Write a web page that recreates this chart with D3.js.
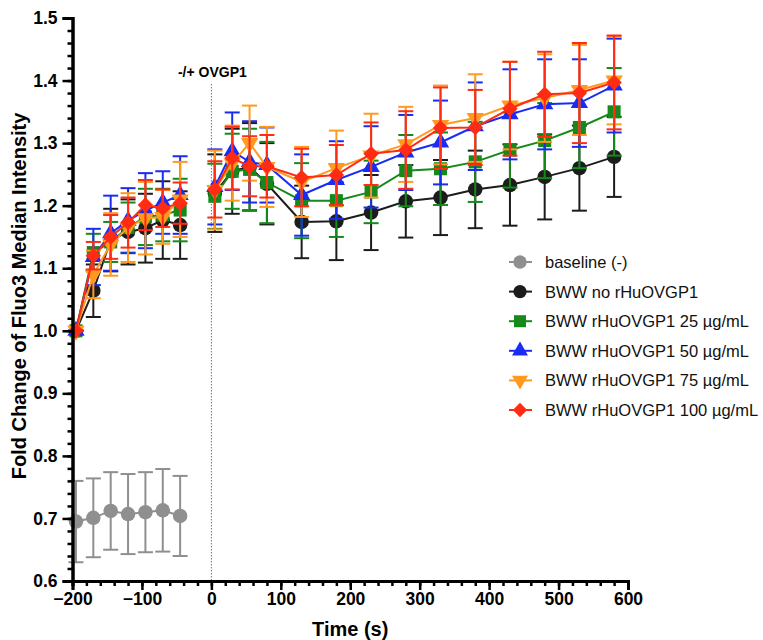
<!DOCTYPE html>
<html>
<head>
<meta charset="utf-8">
<script src="https://cdn.jsdelivr.net/npm/d3@7"></script>
<style>
  body { margin: 0; background: #fff; }
  svg { display: block; font-family: "Liberation Sans", Arial, sans-serif; }
</style>
</head>
<body>
<div class="graph"></div>
<script>
// Data
var timesPre = [-195, -170, -145, -120, -95, -70, -45];
var timesPost = [5, 30, 55, 80, 130, 180, 230, 280, 330, 380, 430, 480, 530, 580];

var baselineMean = [0.695, 0.701, 0.712, 0.707, 0.710, 0.713, 0.704];
var baselineSd = [0.065, 0.063, 0.062, 0.064, 0.064, 0.066, 0.064];

var noProtMean = [1.0, 1.064, 1.145, 1.158, 1.164, 1.177, 1.169, 1.220, 1.255, 1.262, 1.235, 1.174, 1.175, 1.189, 1.207, 1.213, 1.226, 1.233, 1.246, 1.260, 1.278];
var noProtSd = [0, 0.042, 0.05, 0.052, 0.055, 0.062, 0.054, 0.062, 0.068, 0.07, 0.065, 0.058, 0.062, 0.06, 0.058, 0.06, 0.062, 0.065, 0.068, 0.068, 0.064];

var dose25Mean = [1.0, 1.125, 1.142, 1.165, 1.182, 1.185, 1.193, 1.215, 1.255, 1.258, 1.237, 1.208, 1.208, 1.222, 1.256, 1.259, 1.270, 1.289, 1.304, 1.325, 1.350];
var dose25Sd = [0, 0.03, 0.032, 0.04, 0.045, 0.042, 0.05, 0.052, 0.06, 0.065, 0.065, 0.06, 0.058, 0.05, 0.057, 0.058, 0.064, 0.06, 0.06, 0.065, 0.07];

var dose50Mean = [1.0, 1.118, 1.156, 1.176, 1.192, 1.205, 1.217, 1.230, 1.287, 1.270, 1.265, 1.217, 1.241, 1.262, 1.285, 1.301, 1.327, 1.346, 1.362, 1.364, 1.392];
var dose50Sd = [0, 0.045, 0.06, 0.052, 0.06, 0.05, 0.062, 0.06, 0.062, 0.065, 0.06, 0.065, 0.062, 0.065, 0.06, 0.067, 0.07, 0.072, 0.072, 0.07, 0.075];

var dose75Mean = [1.0, 1.09, 1.138, 1.165, 1.18, 1.182, 1.21, 1.225, 1.268, 1.300, 1.262, 1.238, 1.260, 1.280, 1.298, 1.329, 1.340, 1.360, 1.372, 1.385, 1.400];
var dose75Sd = [0, 0.038, 0.05, 0.055, 0.058, 0.043, 0.06, 0.063, 0.06, 0.06, 0.064, 0.056, 0.06, 0.067, 0.06, 0.063, 0.07, 0.07, 0.07, 0.072, 0.07];

var dose100Mean = [1.0, 1.12, 1.150, 1.173, 1.201, 1.196, 1.204, 1.226, 1.276, 1.263, 1.263, 1.245, 1.249, 1.283, 1.289, 1.324, 1.325, 1.355, 1.378, 1.380, 1.397];
var dose100Sd = [0, 0.022, 0.035, 0.04, 0.04, 0.03, 0.033, 0.045, 0.05, 0.048, 0.05, 0.046, 0.048, 0.05, 0.062, 0.065, 0.06, 0.075, 0.068, 0.08, 0.075];

var seriesNames = ["baseline (-)", "BWW no rHuOVGP1", "BWW rHuOVGP1 25 \u00b5g/mL",
    "BWW rHuOVGP1 50 \u00b5g/mL", "BWW rHuOVGP1 75 \u00b5g/mL", "BWW rHuOVGP1 100 \u00b5g/mL"];
var xTicks = [-200, -100, 0, 100, 200, 300, 400, 500, 600];
var yTicks = [0.6, 0.7, 0.8, 0.9, 1.0, 1.1, 1.2, 1.3, 1.4, 1.5];

// Configuration
var width = 763, height = 640;
var allTimes = timesPre.concat(timesPost);

var series = [
    {name: seriesNames[0], color: "#8f8f8f", shape: "circle", times: timesPre, mean: baselineMean, sd: baselineSd},
    {name: seriesNames[1], color: "#1c1c1c", shape: "circle", times: allTimes, mean: noProtMean, sd: noProtSd},
    {name: seriesNames[2], color: "#15891a", shape: "square", times: allTimes, mean: dose25Mean, sd: dose25Sd},
    {name: seriesNames[3], color: "#1b2cf2", shape: "triangle", times: allTimes, mean: dose50Mean, sd: dose50Sd},
    {name: seriesNames[4], color: "#ff9a1f", shape: "triangleDown", times: allTimes, mean: dose75Mean, sd: dose75Sd},
    {name: seriesNames[5], color: "#ff2b12", shape: "diamond", times: allTimes, mean: dose100Mean, sd: dose100Sd}
];

var svg = d3.select(".graph").append("svg")
    .attr("width", width)
    .attr("height", height);

// Scales
var x = d3.scaleLinear().domain([-200, 600]).range([72.5, 628]);
var y = d3.scaleLinear().domain([0.6, 1.5]).range([581, 18]);

// Marker helper
function symbolPath(shape, scale) {
    scale = scale || 1;
    if (shape === "circle") return d3.symbol(d3.symbolCircle, 165 * scale)();
    if (shape === "square") return d3.symbol(d3.symbolSquare, 170 * scale)();
    if (shape === "diamond") return d3.symbol(d3.symbolSquare, 120 * scale)();
    return d3.symbol(d3.symbolTriangle, 130 * scale)();
}
function symbolRotate(shape) {
    if (shape === "diamond") return 45;
    if (shape === "triangleDown") return 180;
    return 0;
}

// vertical marker line at time 0
svg.append("line")
    .attr("x1", x(0)).attr("x2", x(0))
    .attr("y1", 84).attr("y2", y(0.6))
    .attr("stroke", "#777")
    .attr("stroke-width", 1)
    .attr("stroke-dasharray", "1.5,1.5");
svg.append("text")
    .attr("x", x(0) + 1).attr("y", 77)
    .attr("text-anchor", "middle")
    .attr("font-size", 14).attr("font-weight", "bold")
    .text("-/+ OVGP1");

// Render series
var capHalf = 7.5;
series.forEach(function (s) {
    var pts = s.times.map(function (t, i) { return {t: t, m: s.mean[i], sd: s.sd[i]}; });
    var g = svg.append("g");

    // error bars
    var eb = g.selectAll(".eb").data(pts).enter().append("g")
        .attr("stroke", s.color).attr("stroke-width", 2);
    eb.append("line")
        .attr("x1", function (d) { return x(d.t); }).attr("x2", function (d) { return x(d.t); })
        .attr("y1", function (d) { return y(d.m - d.sd); }).attr("y2", function (d) { return y(d.m + d.sd); });
    eb.append("line")
        .attr("x1", function (d) { return x(d.t) - capHalf; }).attr("x2", function (d) { return x(d.t) + capHalf; })
        .attr("y1", function (d) { return y(d.m + d.sd); }).attr("y2", function (d) { return y(d.m + d.sd); });
    eb.append("line")
        .attr("x1", function (d) { return x(d.t) - capHalf; }).attr("x2", function (d) { return x(d.t) + capHalf; })
        .attr("y1", function (d) { return y(d.m - d.sd); }).attr("y2", function (d) { return y(d.m - d.sd); });

    // connecting lines (gap across time 0)
    var line = d3.line().x(function (d) { return x(d.t); }).y(function (d) { return y(d.m); });
    var segs = [pts.filter(function (d) { return d.t < 0; }), pts.filter(function (d) { return d.t > 0; })];
    segs.forEach(function (seg) {
        if (seg.length < 2) return;
        g.append("path").datum(seg)
            .attr("d", line)
            .attr("fill", "none")
            .attr("stroke", s.color)
            .attr("stroke-width", 2);
    });

    // markers
    g.selectAll(".mk").data(pts).enter().append("path")
        .attr("d", symbolPath(s.shape))
        .attr("transform", function (d) {
            return "translate(" + x(d.t) + "," + y(d.m) + ") rotate(" + symbolRotate(s.shape) + ")";
        })
        .attr("fill", s.color);
});

// Axes
function styleAxis(g) {
    g.select(".domain").attr("stroke", "#000").attr("stroke-width", 3);
    g.selectAll(".tick line").attr("stroke", "#000").attr("stroke-width", 2.5);
    g.selectAll(".tick text").attr("font-size", 17.5).attr("font-weight", "bold")
        .attr("font-family", "'Liberation Sans', Arial, sans-serif").attr("fill", "#000");
}

svg.append("g")
    .attr("transform", "translate(0," + y(0.6) + ")")
    .call(d3.axisBottom(x).tickValues(d3.range(-200, 601, 20)).tickSize(5).tickFormat(""))
    .call(styleAxis);
svg.append("g")
    .attr("transform", "translate(0," + y(0.6) + ")")
    .call(d3.axisBottom(x).tickValues(xTicks).tickSize(9).tickPadding(3).tickFormat(d3.format("d")))
    .call(styleAxis);

svg.append("g")
    .attr("transform", "translate(" + x(-200) + ",0)")
    .call(d3.axisLeft(y).tickValues(d3.range(0, 46).map(function (i) { return 0.6 + i * 0.02; })).tickSize(5).tickFormat(""))
    .call(styleAxis);
svg.append("g")
    .attr("transform", "translate(" + x(-200) + ",0)")
    .call(d3.axisLeft(y).tickValues(yTicks).tickSize(10).tickPadding(5).tickFormat(d3.format(".1f")))
    .call(styleAxis);

// Axis titles
svg.append("text")
    .attr("x", (x(-200) + x(600)) / 2).attr("y", 636)
    .attr("text-anchor", "middle")
    .attr("font-size", 20).attr("font-weight", "bold")
    .text("Time (s)");
svg.append("text")
    .attr("transform", "translate(26," + 296 + ") rotate(-90)")
    .attr("text-anchor", "middle")
    .attr("font-size", 20).attr("font-weight", "bold")
    .text("Fold Change of Fluo3 Median Intensity");

// Legend
var legend = svg.append("g").attr("transform", "translate(520,262)");
series.forEach(function (s, i) {
    var row = legend.append("g").attr("transform", "translate(0," + (i * 29.6) + ")");
    row.append("line").attr("x1", -11).attr("x2", 12).attr("stroke", s.color).attr("stroke-width", 2);
    row.append("path")
        .attr("d", symbolPath(s.shape, 0.85))
        .attr("transform", "rotate(" + symbolRotate(s.shape) + ")")
        .attr("fill", s.color);
    row.append("text")
        .attr("x", 25).attr("y", 6)
        .attr("font-size", 16.5)
        .attr("fill", "#111")
        .text(s.name);
});
</script>
</body>
</html>
